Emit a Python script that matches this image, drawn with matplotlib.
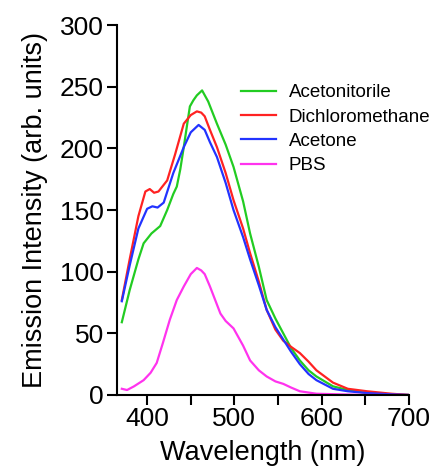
import matplotlib.pyplot as plt

plt.rcParams['font.family'] = ['Liberation Sans', 'DejaVu Sans']

# wavelength (nm) / intensity pairs
wl_acn = [371, 380, 390, 396, 405, 415, 423, 430, 434, 438, 442, 446, 449, 453, 457, 463, 470, 480, 490, 499, 510, 518, 528, 537, 547, 556, 565, 575, 585, 594, 613, 630, 652, 680, 700]
acn = [59, 85, 110, 123, 131, 137, 150, 163, 169, 183, 201, 220, 234, 239, 243, 247, 238, 220, 203, 185, 157, 131, 104, 77, 62, 50, 38, 28, 20, 15, 7, 4, 1.5, 0.5, 0]

wl_dcm = [371, 380, 390, 398, 403, 408, 413, 423, 432, 442, 450, 457, 462, 466, 472, 480, 490, 499, 510, 518, 528, 537, 547, 556, 565, 575, 585, 594, 613, 630, 652, 680, 700]
dcm = [77, 110, 145, 165, 167, 164, 165, 174, 195, 220, 227, 230, 229, 226, 215, 201, 180, 158, 135, 115, 92, 69, 53, 44, 39, 34, 27, 20, 10, 5, 3, 1, 0]

wl_ace = [371, 380, 390, 400, 406, 412, 419, 430, 442, 450, 459, 466, 472, 480, 490, 499, 510, 518, 528, 537, 547, 556, 565, 575, 585, 594, 613, 630, 652, 680, 700]
ace = [76, 105, 135, 151, 153, 152, 156, 180, 201, 213, 219, 215, 205, 193, 172, 150, 128, 110, 89, 69, 55, 45, 35, 25, 17, 12, 5, 3, 1.5, 0.5, 0]

wl_pbs = [371, 377, 385, 396, 404, 411, 418, 426, 434, 442, 450, 457, 462, 466, 472, 478, 484, 490, 499, 510, 518, 528, 537, 547, 556, 565, 575, 594, 620, 650, 700]
pbs = [5, 4, 7, 12, 18, 26, 42, 61, 77, 88, 98, 103, 101, 98, 88, 77, 66, 60, 54, 40, 28, 20, 15, 11, 9, 6, 3, 1, 0.5, 0, 0]

labels = ['Acetonitorile', 'Dichloromethane', 'Acetone', 'PBS']
colors = ['#22cc22', '#ff2222', '#2233ff', '#ff33ee']

fig = plt.figure(figsize=(4.35, 4.73), dpi=100)
ax = fig.add_axes([0.268, 0.165, 0.672, 0.782])

series = [(wl_acn, acn), (wl_dcm, dcm), (wl_ace, ace), (wl_pbs, pbs)]
for (x, y), lab, c in zip(series, labels, colors):
    ax.plot(x, y, color=c, lw=1.6, label=lab)

ax.set_xlim(365, 700)
ax.set_ylim(0, 300)
ax.set_xticks([400, 500, 600, 700])
ax.set_xticks([450, 550, 650], minor=True)
ax.set_yticks(range(0, 301, 50))
for s in ['top', 'right']:
    ax.spines[s].set_visible(False)
for s in ['left', 'bottom']:
    ax.spines[s].set_linewidth(1.5)
ax.tick_params(which='both', direction='out', length=7, width=1.5, labelsize=19, pad=2)
ax.set_xlabel('Wavelength (nm)', fontsize=19.5, labelpad=6)
ax.set_ylabel('Emission Intensity (arb. units)', fontsize=19.5, labelpad=9)

ax.legend(loc='upper left', bbox_to_anchor=(0.40, 0.86), frameon=False, fontsize=13.5,
          handlelength=1.85, handletextpad=0.7, labelspacing=0.38, borderaxespad=0)

fig.savefig('out.png', dpi=100)
